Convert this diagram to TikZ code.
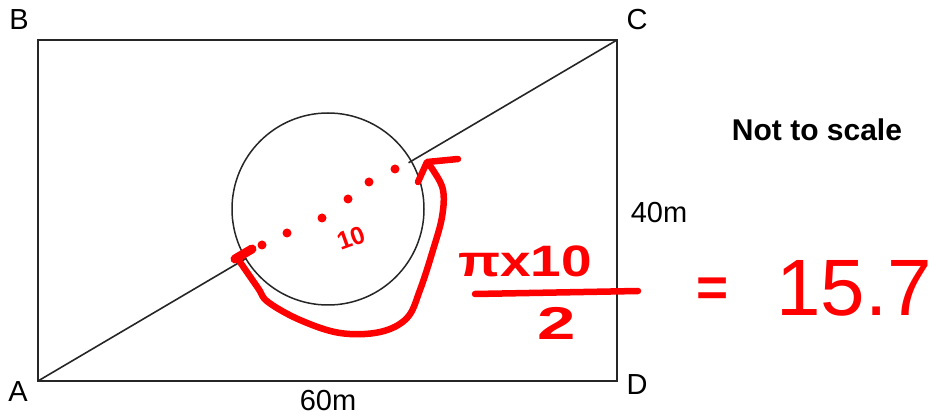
\documentclass[tikz,border=0pt]{standalone}
\usepackage{fontspec}
\setmainfont{Liberation Sans}
\usepackage{xcolor}
\colorlet{colInk}{red}
\colorlet{colLine}{black!85}
\usetikzlibrary{calc}

\begin{document}
\begin{tikzpicture}[x=1pt, y=-1pt,
		lbl/.style={font=\fontsize{29}{29}\selectfont, inner sep=0pt},
		ink/.style={colInk, line width=6.5pt, line cap=round, line join=round},
		inktext/.style={text=colInk, inner sep=0pt}]
	\useasboundingbox (0,0) rectangle (940,419);
	% field and path
	\coordinate (A) at (38,381);
	\coordinate (B) at (38,40);
	\coordinate (C) at (617,40);
	\coordinate (D) at (617,381);
	\coordinate (O) at (328,209);
	\draw[colLine, line width=2pt] (A) -- (B) -- (C) -- (D) -- cycle;
	\draw[colLine, line width=1.6pt] (A) -- ($(A)!0.36!(C)$);
	\draw[colLine, line width=1.6pt] ($(A)!0.64!(C)$) -- (C);
	\draw[colLine, line width=1.5pt] (O) circle (96pt);
	\node[lbl] (labB) at (19,20) {B};
	\node[lbl] (labC) at (637,20) {C};
	\node[lbl] (labA) at (18,392) {A};
	\node[lbl] (labD) at (637,385) {D};
	\node[lbl] (len60) at (328,401) {60m};
	\node[lbl] (len40) at (659,213) {40m};
	\node[lbl, font=\fontsize{30}{30}\selectfont\bfseries] (note) at (817,130) {Not to scale};
	% handwritten working
	\foreach \x/\y in {395/169, 369/182, 348/199, 322/218, 287/233, 262/245}
		\fill[colInk] (\x,\y) circle (4.5pt);
	\draw[ink, line width=9pt] (235,259) -- (252,249);
	\node[inktext, font=\fontsize{25}{25}\selectfont\bfseries, rotate=20] (rad) at (351,238) {10};
	\draw[ink] plot[smooth, tension=0.6] coordinates {(240,262) (258,288) (268,302)
		(300,320) (340,333) (380,332) (407,318) (420,290) (433,250) (442,217) (443,190) (433,170) (427,163)};
	\draw[ink] (458,159) -- (427,162) -- (418,182);
	\node[inktext, font=\fontsize{44}{44}\selectfont\bfseries, xscale=1.25] (num) at (525,261) {πx10};
	\draw[ink] (475,294) -- (638,291);
	\node[inktext, font=\fontsize{46}{46}\selectfont\bfseries, xscale=1.5] (den) at (557,323) {2};
	\node[inktext, font=\fontsize{55}{55}\selectfont\bfseries] (eq) at (713,292) {=};
	\node[inktext, font=\fontsize{80}{80}\selectfont] (res) at (854,288) {15.7};
\end{tikzpicture}
\end{document}
